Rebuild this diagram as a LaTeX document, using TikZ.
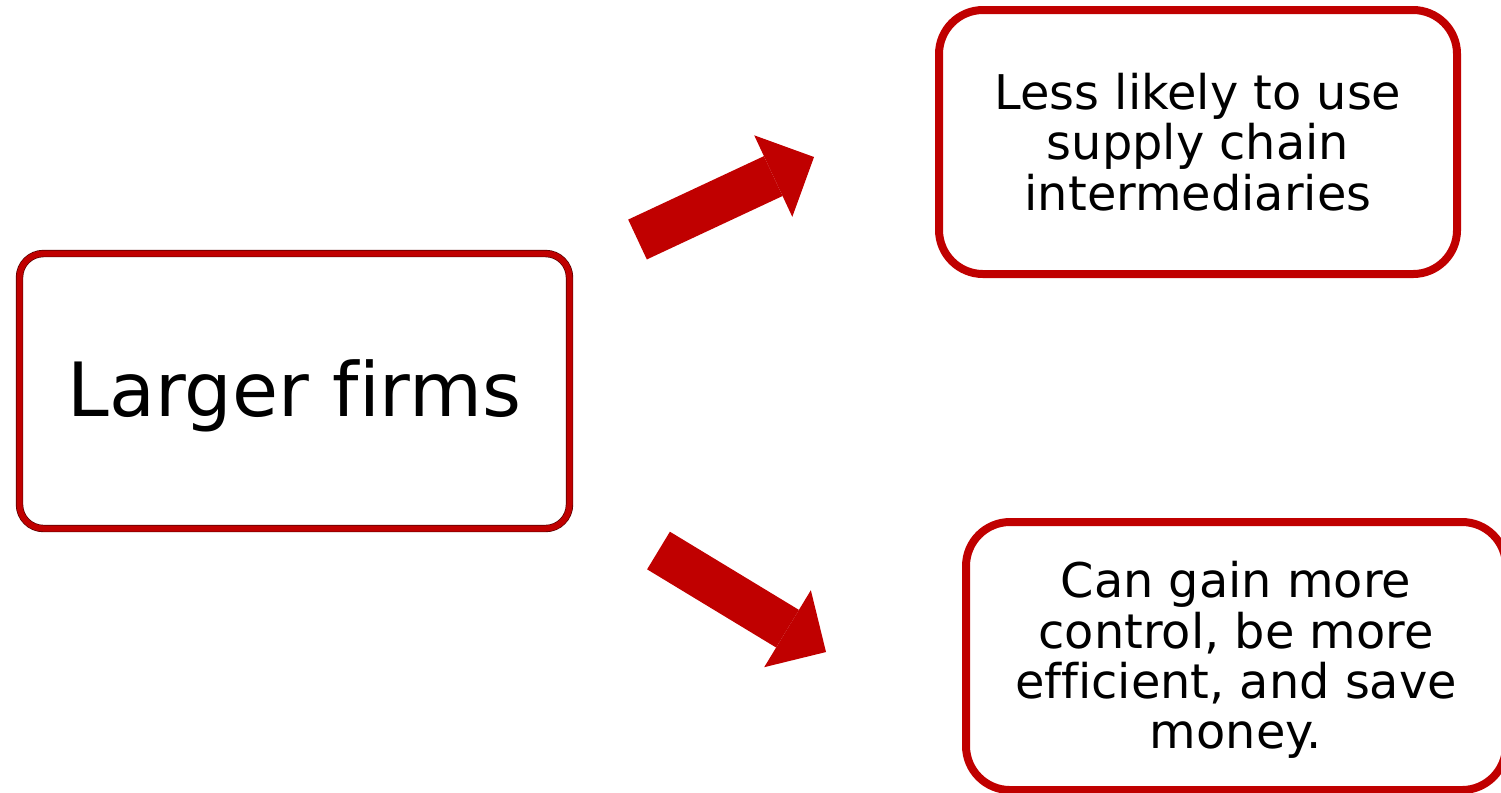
\documentclass[tikz,border=0pt]{standalone}
\usepackage{fontspec}
\setmainfont[Ligatures=NoCommon]{DejaVu Sans}
\usepackage{tikz}
\usepackage{xcolor}
\usetikzlibrary{positioning,arrows.meta}

\definecolor{firmred}{RGB}{192,0,0}

\begin{document}
\begin{tikzpicture}[x=0.1mm, y=-0.1mm,
    outcome/.style={draw=firmred, line width=0.8mm, rounded corners=4.4mm,
      align=center, inner sep=0pt, font=\fontsize{13.6pt}{14.3pt}\selectfont},
    bigarrow/.style={firmred, line width=4.4mm,
      -{Triangle[line width=0pt, length=4.5mm, width=9mm]}}]
  \useasboundingbox (0,0) rectangle (1501,792);
  \clip (0,0) rectangle (1501,792);

  % Main box with a thin dark rim on both sides of the red border
  \node[draw=firmred!45!black, double=firmred, double distance=0.6mm, line width=0.07mm,
        rounded corners=2.4mm, minimum width=55mm, minimum height=27.5mm,
        inner sep=0pt, text depth=1.7pt, font=\fontsize{21.3pt}{24pt}\selectfont]
        (firms) at (294.5,391) {Larger firms};

  % The two outcomes
  \node[outcome, minimum width=51.8mm, minimum height=26.4mm]
        (fewer) at (1198,142) {Less likely to use\\supply chain\\intermediaries};
  \node[outcome, text depth=0.6pt, minimum width=54mm, minimum height=26.8mm]
        (gain) at (1236,656) {Can gain more\\control, be more\\efficient, and save\\money.};

  % Block arrows pointing to the outcomes
  \coordinate (uptail) at (637.5,239.5);
  \coordinate (uptip) at (814,157);
  \coordinate (downtail) at (658.5,550.5);
  \coordinate (downtip) at (826,652);
  \draw[bigarrow] (uptail) -- (uptip);
  \draw[bigarrow] (downtail) -- (downtip);
\end{tikzpicture}
\end{document}
